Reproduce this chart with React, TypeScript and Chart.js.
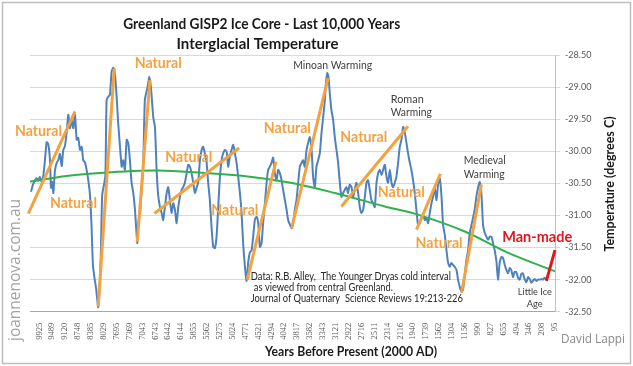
import { useEffect, useRef } from "react";
import { Chart, registerables } from "chart.js";

Chart.register(...registerables);

// ---------- DATA ----------
// x positions are in "tick-label slots" (0 = 9925 yrs BP ... 40 = 95 yrs BP)
const xTickLabels = [
  "9925", "9489", "9120", "8748", "8385", "8029", "7695", "7369", "7043", "6743",
  "6442", "6144", "5855", "5562", "5275", "5024", "4771", "4521", "4294", "4042",
  "3817", "3582", "3343", "3121", "2922", "2716", "2511", "2314", "2116", "1940",
  "1739", "1562", "1304", "1156", "990", "827", "655", "494", "346", "208", "95",
];

const yTicks = [-32.5, -32.0, -31.5, -31.0, -30.5, -30.0, -29.5, -29.0, -28.5];

// GISP2 temperature (°C) : [axis position, temperature]
const gisp2Temperature: [number, number][] = [
  [-0.64, -30.63], [-0.49, -30.52], [-0.33, -30.45], [-0.2, -30.42], [-0.08, -30.46], [0.05, -30.4], [0.19, -30.48], [0.31, -30.38],
  [0.44, -30.14], [0.57, -29.86], [0.7, -29.89], [0.83, -30.14], [0.91, -30.57], [1.01, -30.48], [1.09, -30.65], [1.22, -30.29],
  [1.35, -30.18], [1.47, -30.14], [1.6, -30.04], [1.74, -30.23], [1.86, -29.98], [1.99, -29.92], [2.12, -29.71], [2.25, -29.43],
  [2.38, -29.64], [2.51, -29.51], [2.64, -29.64], [2.77, -29.43], [2.9, -29.82], [3.02, -29.79], [3.16, -29.98], [3.29, -29.93],
  [3.41, -30.14], [3.54, -30.17], [3.67, -30.29], [3.8, -30.45], [3.93, -30.68], [4.05, -31.15], [4.16, -31.77], [4.28, -31.97],
  [4.42, -32.16], [4.57, -32.43], [4.71, -32.0], [4.78, -31.54], [4.88, -30.68], [5.02, -30.52], [5.13, -30.37], [5.22, -29.2],
  [5.35, -29.15], [5.48, -29.12], [5.61, -28.76], [5.74, -28.7], [5.87, -28.8], [6.0, -29.15], [6.12, -29.56], [6.26, -29.93],
  [6.39, -30.24], [6.51, -30.14], [6.64, -30.29], [6.78, -29.82], [6.9, -29.87], [7.03, -30.14], [7.16, -30.49], [7.29, -30.65],
  [7.42, -30.91], [7.6, -31.43], [7.67, -31.12], [7.81, -30.96], [7.94, -30.6], [8.06, -30.24], [8.19, -29.2], [8.4, -29.0],
  [8.53, -28.84], [8.66, -29.0], [8.84, -29.47], [8.97, -29.62], [9.1, -30.29], [9.22, -30.68],
  [9.36, -30.87], [9.49, -30.96], [9.61, -31.07], [9.74, -30.87], [9.88, -30.65], [10.0, -30.56], [10.13, -30.76], [10.26, -30.96],
  [10.39, -30.81], [10.52, -30.91], [10.65, -31.12], [10.78, -30.87], [10.91, -30.71], [11.04, -30.6], [11.16, -30.56], [11.29, -30.49],
  [11.43, -30.34], [11.55, -30.21], [11.68, -30.24], [11.81, -30.34], [11.94, -30.49], [12.07, -30.65], [12.2, -30.57], [12.33, -30.48],
  [12.46, -30.14], [12.59, -29.98], [12.71, -29.93], [12.84, -30.03], [12.98, -30.18], [13.1, -30.49], [13.23, -30.76], [13.36, -31.18],
  [13.49, -31.49], [13.62, -31.51], [13.75, -31.33], [13.88, -30.87], [14.01, -30.4], [14.14, -30.14], [14.26, -30.03], [14.4, -29.98],
  [14.53, -30.01], [14.65, -30.24], [14.78, -30.09], [14.91, -29.98], [15.04, -29.9], [15.17, -30.03], [15.3, -30.18], [15.43, -30.4],
  [15.56, -30.65], [15.69, -30.96], [15.81, -31.43], [15.95, -31.8], [16.08, -32.02], [16.2, -31.74], [16.33, -31.58], [16.47, -31.54],
  [16.59, -31.33], [16.72, -31.07], [16.85, -31.02], [16.98, -31.12], [17.11, -31.49], [17.24, -31.43], [17.36, -31.12], [17.5, -30.81],
  [17.63, -30.49], [17.75, -30.29], [17.88, -30.24], [18.01, -30.18], [18.14, -30.1], [18.27, -30.34], [18.4, -30.45], [18.53, -30.29],
  [18.66, -30.34], [18.79, -30.45], [18.91, -30.6], [19.05, -30.76], [19.18, -30.91], [19.3, -31.07],
  [19.43, -31.14], [19.57, -31.2], [19.69, -31.12], [19.82, -30.91], [19.95, -30.76], [20.08, -30.49], [20.21, -30.24], [20.34, -30.18],
  [20.46, -30.14], [20.59, -30.24], [20.73, -29.98], [20.85, -29.87], [20.98, -29.78], [21.12, -29.98], [21.24, -30.4], [21.37, -30.56],
  [21.5, -30.24], [21.63, -30.14], [21.76, -30.03], [21.89, -29.71], [22.02, -29.47], [22.15, -29.2], [22.22, -28.97], [22.34, -28.78],
  [22.43, -28.84], [22.53, -29.09], [22.66, -29.36], [22.79, -29.51], [22.92, -29.78], [23.05, -29.98], [23.18, -30.18], [23.31, -30.49],
  [23.44, -30.71], [23.57, -30.65], [23.7, -30.6], [23.83, -30.56], [23.95, -30.65], [24.08, -30.52], [24.22, -30.56], [24.34, -30.71],
  [24.47, -30.6], [24.6, -30.49], [24.73, -30.65], [24.86, -30.87], [24.99, -30.96], [25.12, -30.91], [25.25, -30.71], [25.38, -30.49],
  [25.5, -30.45], [25.63, -30.6], [25.76, -30.76], [25.89, -30.81], [26.02, -30.87], [26.16, -30.49], [26.28, -30.34], [26.41, -30.29],
  [26.54, -30.37], [26.67, -30.29], [26.8, -30.21], [26.93, -30.4], [27.05, -30.49], [27.19, -30.29], [27.32, -30.49], [27.44, -30.56],
  [27.57, -30.49], [27.7, -30.4], [27.83, -30.18], [27.96, -29.93], [28.09, -29.82], [28.22, -29.62], [28.35, -29.71], [28.48, -29.87],
  [28.6, -30.03], [28.74, -30.18], [28.86, -30.29], [28.99, -30.45], [29.12, -30.65], [29.25, -30.91], [29.38, -31.15],
  [29.51, -31.12], [29.64, -31.04], [29.77, -30.99], [29.9, -31.07], [30.03, -31.04], [30.16, -31.12], [30.29, -30.96], [30.42, -30.81],
  [30.54, -30.71], [30.67, -30.57], [30.81, -30.76], [30.93, -30.52], [31.06, -30.42], [31.19, -30.68], [31.32, -31.15], [31.45, -31.3],
  [31.58, -31.54], [31.71, -31.74], [31.84, -31.8], [31.97, -31.74], [32.09, -31.77], [32.22, -31.8], [32.36, -31.85], [32.48, -32.0],
  [32.61, -32.11], [32.74, -32.19], [32.87, -32.16], [33.0, -31.93], [33.13, -31.69], [33.26, -31.54], [33.39, -31.27], [33.52, -31.15],
  [33.64, -31.04], [33.77, -30.91], [33.9, -30.71], [34.03, -30.57], [34.16, -30.48], [34.29, -30.65], [34.42, -31.15], [34.55, -31.27],
  [34.68, -31.33], [34.81, -31.38], [34.94, -31.33], [35.07, -31.33], [35.19, -31.43], [35.32, -31.54], [35.46, -31.72], [35.58, -32.0],
  [35.71, -31.74], [35.84, -31.65], [35.97, -31.66], [36.1, -31.77], [36.23, -31.85], [36.36, -31.9], [36.49, -31.82], [36.61, -31.85],
  [36.74, -31.96], [36.87, -31.88], [37.0, -31.88], [37.13, -31.97], [37.26, -32.0], [37.39, -31.91], [37.51, -31.9], [37.64, -31.99],
  [37.78, -32.04], [37.91, -31.96], [38.04, -31.99], [38.17, -32.05], [38.29, -32.02], [38.42, -31.99], [38.56, -32.02], [38.68, -32.0],
  [38.81, -32.0], [38.95, -31.99], [39.07, -32.0], [39.2, -31.97], [39.33, -32.0],
];

// long-term (polynomial-like) trend
const trendLine: [number, number][] = [
  [-0.72, -30.47], [2.77, -30.37], [6.1, -30.32], [9.2, -30.3], [12.84, -30.34], [15.69, -30.38], [19.16, -30.48],
  [22.92, -30.65], [26.8, -30.86], [29.24, -30.98], [33.0, -31.25], [36.33, -31.58], [40.0, -31.87],
];

// "Man-made" rise
const manMadeRise: [number, number][] = [[39.33, -32.02], [40.0, -31.54]];

// "Natural" warming segments: [x1, t1, x2, t2]
const naturalSegments: [number, number, number, number][] = [
  [-0.85, -30.97, 2.77, -29.38],
  [4.57, -32.42, 5.81, -28.71],
  [7.6, -31.41, 8.58, -28.89],
  [8.93, -30.97, 15.5, -29.95],
  [16.13, -32.0, 18.35, -30.16],
  [19.57, -31.2, 22.4, -28.86],
  [23.43, -30.86, 28.6, -29.61],
  [29.26, -31.22, 31.11, -30.35],
  [32.75, -32.2, 34.29, -30.52],
];

// label anchors (data coordinates)
const naturalLabelAt: [number, number][] = [
  [-0.06, -29.69], [2.65, -30.81], [9.22, -28.63], [11.6, -30.09], [19.24, -29.64],
  [15.17, -30.91], [25.17, -29.78], [28.08, -30.64], [31.01, -31.43],
];

const titleLines = ["Greenland GISP2 Ice Core - Last 10,000 Years", "Interglacial Temperature"];
const xAxisTitle = "Years Before Present (2000 AD)";
const yAxisTitle = "Temperature (degrees C)";
const noteLines = [
  "Data: R.B. Alley,  The Younger Dryas cold interval",
  "as viewed from central Greenland.",
  "Journal of Quaternary  Science Reviews 19:213-226",
];

// ---------- STYLE ----------
const BLUE = "#4f81bd";
const ORANGE = "#f6a13f";
const GREEN = "#2fb24a";
const RED = "#e3161d";

const textPlugin = {
  id: "texts",
  afterDraw(chart: any) {
    const { ctx } = chart;
    const xs = chart.scales.x;
    const ys = chart.scales.y;
    const px = (v: number) => xs.getPixelForValue(v);
    const py = (v: number) => ys.getPixelForValue(v);
    const put = (
      s: string, x: number, y: number, font: string, color: string,
      align: CanvasTextAlign = "center", maxW?: number, base: CanvasTextBaseline = "middle"
    ) => {
      ctx.font = font;
      ctx.fillStyle = color;
      ctx.textAlign = align;
      ctx.textBaseline = base;
      if (maxW) ctx.fillText(s, x, y, maxW);
      else ctx.fillText(s, x, y);
    };
    ctx.save();

    // frame
    ctx.strokeStyle = "#bdbdbd";
    ctx.lineWidth = 1.5;
    ctx.strokeRect(2.5, 2.5, 628, 361);

    // title
    put(titleLines[0], 261.7, 23.5, "bold 16px Lato", "#1a1a1a", "center", 277);
    put(titleLines[1], 257.5, 43.5, "bold 16px Lato", "#1a1a1a", "center", 162);

    // axis titles
    put(xAxisTitle, 351, 352, "bold 12.5px Lato", "#1a1a1a", "center", 172);
    ctx.save();
    ctx.translate(610, 184);
    ctx.rotate(-Math.PI / 2);
    put(yAxisTitle, 0, 0, "bold 12.5px Lato", "#1a1a1a", "center", 138);
    ctx.restore();

    // watermark + signature
    ctx.save();
    ctx.translate(19.5, 270);
    ctx.rotate(-Math.PI / 2);
    put("joannenova.com.au", 0, 0, "16px 'Open Sans'", "#a3a3a3", "center", 142, "alphabetic");
    ctx.restore();
    put("David Lappi", 593, 339, "12.5px 'Open Sans'", "#8a8a8a", "center", 64);

    // Natural labels
    naturalLabelAt.forEach(([x, t]) => put("Natural", px(x), py(t), "bold 15px Lato", ORANGE, "center", 47));
    // Man-made
    put("Man-made", px(38.62), py(-31.33), "bold 16px Lato", RED, "center", 70);

    // period notes
    const g = "#404040";
    const f = "11px Lato";
    put("Minoan Warming", px(19.69), py(-28.67), f, g, "left", 79);
    put("Roman", px(27.26), py(-29.2), f, g, "left", 33);
    put("Warming", px(27.26), py(-29.2) + 12.7, f, g, "left", 41);
    put("Medieval", px(32.92), py(-30.15), f, g, "left", 42);
    put("Warming", px(32.92), py(-30.15) + 13.3, f, g, "left", 41);
    put("Little Ice", px(38.43), py(-32.19), "10px Lato", g, "center", 34);
    put("Age", px(38.43), py(-32.19) + 12.3, "10px Lato", g, "center", 16);

    // data source note
    const nx = px(16.41);
    const ny = py(-31.96);
    put(noteLines[0], nx, ny, "10.5px Lato", "#262626", "left", 200);
    put(noteLines[1], nx + 3, ny + 10.5, "10.5px Lato", "#262626", "left", 139);
    put(noteLines[2], nx, ny + 22, "10.5px Lato", "#262626", "left", 212);

    ctx.restore();
  },
};

export default function App() {
  const ref = useRef<HTMLCanvasElement>(null);

  useEffect(() => {
    const canvas = ref.current;
    if (!canvas) return;

    const orangeData: { x: number; y: number | null }[] = [];
    naturalSegments.forEach(([x1, t1, x2, t2]) => {
      orangeData.push({ x: x1, y: t1 }, { x: x2, y: t2 }, { x: x2, y: null });
    });

    const chart = new Chart(canvas, {
      type: "line",
      data: {
        datasets: [
          {
            label: "Natural",
            data: orangeData as any,
            borderColor: ORANGE,
            borderWidth: 3,
            pointRadius: 0,
            spanGaps: false,
            clip: false as any,
            order: 0,
          },
          {
            label: "Man-made",
            data: manMadeRise.map(([x, y]) => ({ x, y })),
            borderColor: RED,
            borderWidth: 3,
            pointRadius: 0,
            clip: false as any,
            order: 1,
          },
          {
            label: "Trend",
            data: trendLine.map(([x, y]) => ({ x, y })),
            borderColor: GREEN,
            borderWidth: 2,
            pointRadius: 0,
            tension: 0.4,
            order: 2,
          },
          {
            label: "GISP2",
            data: gisp2Temperature.map(([x, y]) => ({ x, y })),
            borderColor: BLUE,
            borderWidth: 2,
            pointRadius: 0,
            tension: 0.2,
            order: 3,
          },
        ],
      },
      options: {
        animation: false,
        responsive: false,
        maintainAspectRatio: false,
        layout: { padding: { left: 30, top: 55, right: 0, bottom: 0 } },
        plugins: {
          legend: { display: false },
          tooltip: { enabled: false },
          title: { display: false },
        },
        scales: {
          x: {
            type: "linear",
            min: -0.72,
            max: 40,
            grid: { display: false },
            border: { display: true, color: "#a6a6a6" },
            ticks: {
              autoSkip: false,
              minRotation: 90,
              maxRotation: 90,
              padding: 3,
              color: "#595959",
              font: { family: "'Liberation Serif'", size: 8.5 },
              callback: (v: any) => xTickLabels[Math.round(Number(v))] ?? "",
            },
            afterBuildTicks: (s: any) => {
              s.ticks = xTickLabels.map((_, i) => ({ value: i }));
            },
            afterFit: (s: any) => {
              s.height = 54.3;
            },
          },
          y: {
            position: "right",
            min: -32.5,
            max: -28.5,
            grid: { color: "#d9d9d9", tickLength: 5 },
            border: { display: true, color: "#bfbfbf" },
            ticks: {
              padding: 5,
              color: "#595959",
              font: { family: "Lato", size: 9 },
              callback: (v: any) => Number(v).toFixed(2),
            },
            afterBuildTicks: (s: any) => {
              s.ticks = yTicks.map((v) => ({ value: v }));
            },
            afterFit: (s: any) => {
              s.width = 78;
            },
          },
        },
      },
      plugins: [textPlugin],
    });

    return () => chart.destroy();
  }, []);

  return (
    <div style={{ position: "absolute", left: 0, top: 0, width: 633, height: 366, background: "#ffffff" }}>
      <canvas ref={ref} width={633} height={366} style={{ display: "block", width: 633, height: 366 }} />
    </div>
  );
}
